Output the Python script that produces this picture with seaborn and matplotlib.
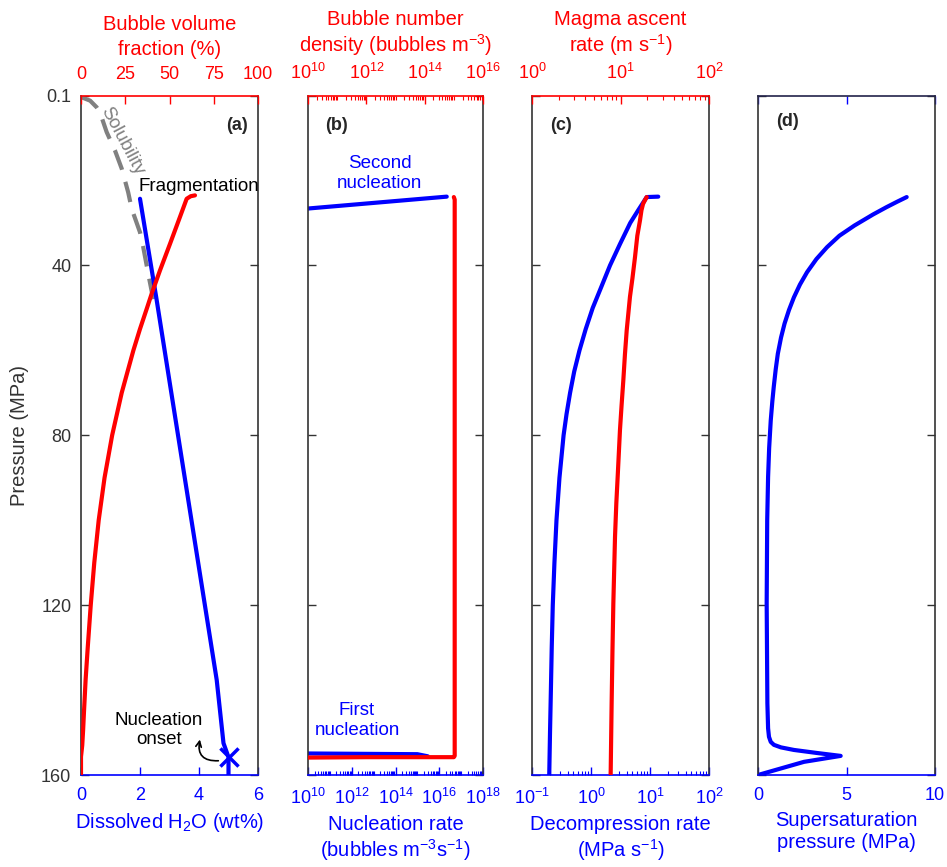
import matplotlib
matplotlib.use("Agg")
import matplotlib.pyplot as plt
import matplotlib.ticker as mticker
import seaborn as sns

# ---- data ----
# (a) dissolved H2O (bottom axis), solubility, bubble volume fraction (top axis)
p_h2o = [24.3, 47.5, 137.6, 152.5, 155.8, 160.0]
h2o = [2.0, 2.55, 4.6, 4.83, 5.0, 5.0]
p_sol = [0.1, 0.4, 1.2, 2.75, 3.9, 8.6, 12.9, 17.2, 22.8, 26.7, 32.2, 35.7, 42.0, 48.0]
sol = [0.0, 0.02, 0.31, 0.53, 0.64, 0.87, 1.15, 1.38, 1.6, 1.72, 2.0, 2.11, 2.28, 2.45]
p_vf = [23.5, 23.7, 24.3, 28.6, 34.9, 41.2, 46.7, 50, 55, 60, 70, 80, 90, 100,
        110, 120, 130, 137.6, 145, 149.4, 153, 155.7, 160]
vf = [64.4, 62.0, 59.7, 55.9, 50.3, 44.6, 39.9, 37.3, 33.3, 29.6, 23.0, 17.6, 13.3,
      10.0, 7.5, 5.5, 3.8, 2.6, 1.7, 1.2, 0.7, 0.0, 0.0]
onset = (5.0, 155.8)

# (b) nucleation rate (bottom), bubble number density (top)
p_j1 = [154.9, 155.1, 155.6]
j1 = [1e9, 1e15, 3e15]
p_j2 = [27.04, 23.8]
j2 = [1e9, 2.2e16]
p_n = [156.0, 155.8, 155.8, 155.5, 100, 30, 24.5, 23.9]
n = [1e8, 1e12, 1.0e15, 1.07e15, 1.07e15, 1.07e15, 1.07e15, 1.0e15]

# (c) decompression rate (bottom), magma ascent rate (top)
p_dec = [23.8, 23.9, 27, 30, 35, 40, 45, 50, 55, 60, 65, 70, 75, 80, 90, 100,
         110, 120, 130, 140, 150, 160]
dec = [13.8, 8.79, 6.31, 4.62, 3.09, 2.10, 1.50, 1.07, 0.813, 0.638, 0.519, 0.442,
       0.385, 0.343, 0.292, 0.260, 0.240, 0.225, 0.216, 0.209, 0.202, 0.196]
p_asc = [23.9, 24.5, 25.5, 27, 29.4, 33, 38, 43, 47.4, 55.3, 61, 67.1, 73, 78.8,
         89, 96, 103.9, 119.6, 131, 143.1, 160]
asc = [19.77, 19.05, 17.99, 17.26, 16.60, 15.49, 14.59, 13.65, 12.79, 11.75, 11.22,
       10.76, 10.28, 9.86, 9.33, 8.97, 8.67, 8.30, 8.11, 7.94, 7.74]

# (d) supersaturation pressure
p_ss = [23.9, 25, 26.3, 28, 30.6, 33, 35.7, 38.5, 41.6, 44.5, 47.5, 50.5, 53.7, 57,
        60.8, 64.5, 68.6, 72, 76.5, 83, 89.8, 100, 119.6, 143.1, 149, 151.0, 152.2,
        152.9, 153.5, 154.1, 154.8, 155.5, 156.9, 160]
ss = [8.40, 7.86, 7.25, 6.50, 5.45, 4.60, 3.90, 3.30, 2.77, 2.37, 2.03, 1.75, 1.50,
      1.30, 1.12, 1.00, 0.89, 0.81, 0.72, 0.63, 0.57, 0.52, 0.49, 0.53, 0.57, 0.62,
      0.72, 0.90, 1.3, 2.03, 3.3, 4.67, 2.60, 0.0]

p_ticks = [0.1, 40, 80, 120, 160]

sns.set_style("ticks")
plt.rcParams['font.family'] = ['Liberation Sans', 'DejaVu Sans']
plt.rcParams['mathtext.fontset'] = 'custom'
plt.rcParams['mathtext.rm'] = 'Liberation Sans'
plt.rcParams['mathtext.it'] = 'Liberation Sans:italic'
plt.rcParams['mathtext.bf'] = 'Liberation Sans:bold'

BLUE = '#0000ff'
RED = '#ff0000'
DARK = '#333333'
LW = 3.0
TICK_FS = 13
LAB_FS = 14.5
TXT_FS = 13.5

fig = plt.figure(figsize=(9.47, 8.67), dpi=100)
lefts = [81, 308, 532, 758]
widths = [177, 175, 177, 177]
bottom = 1 - 775 / 867
height = (775 - 96) / 867


def log_minor(lo, hi):
    return [k * 10.0 ** e for e in range(lo, hi) for k in range(2, 10)]


def setup_main(ax, first):
    ax.set_ylim(160, 0.1)
    ax.set_yticks(p_ticks)
    ax.set_yticklabels(['0.1', '40', '80', '120', '160'] if first else [])
    ax.tick_params(axis='y', direction='in', left=True, right=True, length=6,
                   width=1, colors=DARK, labelsize=TICK_FS, pad=7)
    ax.tick_params(axis='x', which='both', direction='in', colors=BLUE,
                   labelsize=TICK_FS, pad=9, bottom=True, top=False)
    ax.tick_params(axis='x', which='major', length=6, width=1)
    ax.tick_params(axis='x', which='minor', length=3, width=0.8)
    for s in ['left', 'right']:
        ax.spines[s].set_color(DARK)
        ax.spines[s].set_linewidth(1.2)
    ax.spines['bottom'].set_color(BLUE)
    ax.spines['bottom'].set_linewidth(1.2)
    ax.spines['top'].set_visible(False)
    ax.set_ylabel('')


def setup_top(ax):
    ax.tick_params(axis='x', which='both', direction='in', colors=RED,
                   labelsize=TICK_FS, pad=9, top=True, bottom=False)
    ax.tick_params(axis='x', which='major', length=6, width=1)
    ax.tick_params(axis='x', which='minor', length=3, width=0.8)
    for s in ['left', 'right', 'bottom']:
        ax.spines[s].set_visible(False)
    ax.spines['top'].set_color(RED)
    ax.spines['top'].set_linewidth(1.2)
    ax.set_ylabel('')


def line(ax, x, y, color, **kw):
    sns.lineplot(x=x, y=y, ax=ax, sort=False, estimator=None, color=color,
                 lw=LW, legend=False, **kw)


axes = [fig.add_axes([l / 947, bottom, w / 947, height]) for l, w in zip(lefts, widths)]

# ---- (a) ----
ax = axes[0]
ax.set_xlim(0, 6)
line(ax, sol, p_sol, '#808080', linestyle=(0, (5, 3)))
line(ax, h2o, p_h2o, BLUE)
sns.scatterplot(x=[onset[0]], y=[onset[1]], ax=ax, marker='x', s=170,
                color=BLUE, linewidth=2.5, legend=False, zorder=5)
setup_main(ax, True)
ax.set_xticks([0, 2, 4, 6])
ax.set_xlabel('Dissolved H$_2$O (wt%)', color=BLUE, fontsize=LAB_FS, labelpad=5)
ax.set_ylabel('Pressure (MPa)', color=DARK, fontsize=LAB_FS, labelpad=9)
ax.text(1.38, 10.6, 'Solubility', color='#808080', fontsize=TXT_FS, rotation=-62,
        ha='center', va='center')
ax.text(1.95, 21.4, 'Fragmentation', color='k', fontsize=TXT_FS, ha='left', va='center')
ax.text(2.65, 149.4, 'Nucleation\nonset', color='k', fontsize=TXT_FS, ha='center',
        va='center', linespacing=1.2)
ax.annotate('', xy=(4.05, 151.0), xytext=(4.75, 156.6),
            arrowprops=dict(arrowstyle='->', color='k', lw=1.2,
                            connectionstyle='arc3,rad=-0.7'))
ax.text(0.94, 0.957, '(a)', transform=ax.transAxes, fontsize=13, fontweight='bold',
        ha='right', va='center')
top = ax.twiny()
top.set_xlim(0, 100)
line(top, vf, p_vf, RED)
setup_top(top)
top.set_ylim(160, 0.1)
top.set_xticks([0, 25, 50, 75, 100])
top.set_xlabel('Bubble volume\nfraction (%)', color=RED, fontsize=LAB_FS, labelpad=8,
               linespacing=1.45)

# ---- (b) ----
ax = axes[1]
ax.set_xscale('log')
ax.set_xlim(1e10, 1e18)
line(ax, j1, p_j1, BLUE)
line(ax, j2, p_j2, BLUE)
setup_main(ax, False)
ax.set_xticks([1e10, 1e12, 1e14, 1e16, 1e18])
ax.set_xticks(log_minor(10, 18) + [1e11, 1e13, 1e15, 1e17], minor=True)
ax.xaxis.set_minor_formatter(mticker.NullFormatter())
ax.set_xlabel('Nucleation rate\n(bubbles m$^{-3}$s$^{-1}$)', color=BLUE,
              fontsize=LAB_FS, labelpad=5)
ax.text(0.41, 18.4, 'Second\nnucleation', color=BLUE, fontsize=TXT_FS, ha='center',
        va='center', transform=ax.get_yaxis_transform())
ax.text(0.28, 147.2, 'First\nnucleation', color=BLUE, fontsize=TXT_FS, ha='center',
        va='center', transform=ax.get_yaxis_transform())
ax.text(0.1, 0.957, '(b)', transform=ax.transAxes, fontsize=13, fontweight='bold',
        ha='left', va='center')
top = ax.twiny()
top.set_xscale('log')
top.set_xlim(1e10, 1e16)
line(top, n, p_n, RED)
setup_top(top)
top.set_ylim(160, 0.1)
top.set_xticks([1e10, 1e12, 1e14, 1e16])
top.set_xticks(log_minor(10, 16) + [1e11, 1e13, 1e15], minor=True)
top.xaxis.set_minor_formatter(mticker.NullFormatter())
top.set_xlabel('Bubble number\ndensity (bubbles m$^{-3}$)', color=RED,
               fontsize=LAB_FS, labelpad=8)

# ---- (c) ----
ax = axes[2]
ax.set_xscale('log')
ax.set_xlim(0.1, 100)
line(ax, dec, p_dec, BLUE)
setup_main(ax, False)
ax.set_xticks([0.1, 1, 10, 100])
ax.set_xticks(log_minor(-1, 2), minor=True)
ax.xaxis.set_minor_formatter(mticker.NullFormatter())
ax.set_xlabel('Decompression rate\n(MPa s$^{-1}$)', color=BLUE,
              fontsize=LAB_FS, labelpad=5)
ax.text(0.1, 0.957, '(c)', transform=ax.transAxes, fontsize=13, fontweight='bold',
        ha='left', va='center')
top = ax.twiny()
top.set_xscale('log')
top.set_xlim(1, 100)
line(top, asc, p_asc, RED)
setup_top(top)
top.set_ylim(160, 0.1)
top.set_xticks([1, 10, 100])
top.set_xticks(log_minor(0, 2), minor=True)
top.xaxis.set_minor_formatter(mticker.NullFormatter())
top.set_xlabel('Magma ascent\nrate (m s$^{-1}$)', color=RED, fontsize=LAB_FS, labelpad=8)

# ---- (d) ----
ax = axes[3]
ax.set_xlim(0, 10)
line(ax, ss, p_ss, BLUE)
setup_main(ax, False)
ax.set_xticks([0, 5, 10])
ax.tick_params(axis='x', top=True)
ax.spines['top'].set_visible(True)
ax.spines['top'].set_color('#22224a')
ax.spines['top'].set_linewidth(1.2)
ax.set_xlabel('Supersaturation\npressure (MPa)', color=BLUE, fontsize=LAB_FS, labelpad=5)
ax.text(0.1, 0.963, '(d)', transform=ax.transAxes, fontsize=13, fontweight='bold',
        ha='left', va='center')

fig.savefig('out.png', dpi=100)
